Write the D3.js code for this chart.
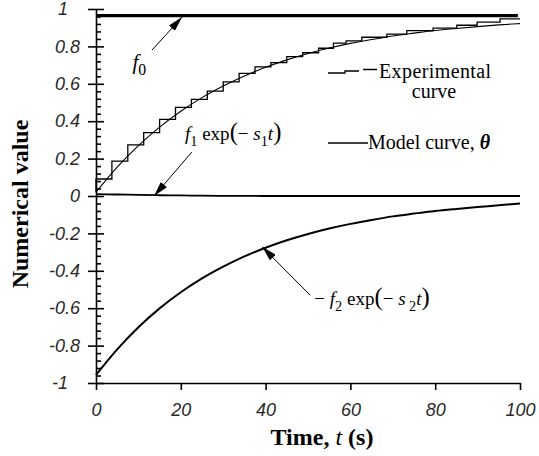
<!DOCTYPE html>
<html>
<head>
<meta charset="utf-8">
<script src="https://cdn.jsdelivr.net/npm/d3@7"></script>
<style>
body { margin: 0; background: #fff; }
svg { display: block; background: #fff; }
.tick text { font-family: "Liberation Sans", Arial, sans-serif; font-style: italic; font-size: 18px; fill: #2a2a2a; }
.serif { font-family: "Liberation Serif", "Times New Roman", serif; fill: #000; }
</style>
</head>
<body>
<script>
// time grid (s) for the smooth curves
const times = [0, 5, 10, 15, 20, 25, 30, 35, 40, 45, 50, 55, 60, 65, 70, 75, 80, 85, 90, 95, 100];
// f1 exp(-s1 t), sits just above zero
const f1Values = [0.01, 0.008, 0.006, 0.004, 0.003, 0.002, 0.001, 0.001, 0, 0, 0, 0, 0, 0, 0, 0, 0, 0, 0, 0, 0];
// -f2 exp(-s2 t)
const f2Values = [-0.957, -0.820, -0.702, -0.601, -0.515, -0.441, -0.378, -0.323, -0.277, -0.237, -0.203,
                  -0.174, -0.149, -0.128, -0.109, -0.094, -0.080, -0.069, -0.059, -0.050, -0.040];
// model curve theta
const modelValues = [0.020, 0.154, 0.269, 0.368, 0.453, 0.526, 0.588, 0.642, 0.688, 0.728, 0.762,
                     0.791, 0.816, 0.837, 0.856, 0.871, 0.885, 0.896, 0.906, 0.915, 0.922];
const f0Value = 0.965;
// experimental staircase (value held up to each time)
const expTimes = [0, 3.75, 7.5, 11.25, 15, 18.75, 22.5, 26.25, 30, 33.75, 37.5, 41.25, 45, 48.75,
                  52.5, 56, 59, 62.7, 68.6, 73.3, 79.5, 85.1, 89.9, 95.3, 100];
const expValues = [0.02, 0.091, 0.187, 0.273, 0.339, 0.41, 0.474, 0.517, 0.561, 0.61, 0.656, 0.69, 0.713, 0.745,
                   0.766, 0.79, 0.818, 0.83, 0.849, 0.866, 0.884, 0.898, 0.913, 0.93, 0.947];

const xTicks = [0, 20, 40, 60, 80, 100];
const yTicks = [-1, -0.8, -0.6, -0.4, -0.2, 0, 0.2, 0.4, 0.6, 0.8, 1];
const yTickLabels = ["-1", "-0.8", "-0.6", "-0.4", "-0.2", "0", "0.2", "0.4", "0.6", "0.8", "1"];

function ResponseChart() {
    let obj = {};
    const width = 539, height = 456;
    const plot = {left: 96, right: 520, top: 9, bottom: 383};
    let svg, x, y;

    obj.setUpChart = () => {
        obj.createSvg();
        obj.createScales();
        obj.createAxes();
        obj.createCurves();
        obj.createLabels();
    }

    obj.createSvg = () => {
        svg = d3.select("body").append("svg")
            .attr("width", width)
            .attr("height", height);

        // arrow head used by the annotations
        svg.append("defs").append("marker")
            .attr("id", "head")
            .attr("markerUnits", "userSpaceOnUse")
            .attr("markerWidth", 15).attr("markerHeight", 8)
            .attr("refX", 15).attr("refY", 4)
            .attr("orient", "auto")
            .append("path").attr("d", "M0,0 L15,4 L0,8 Z").attr("fill", "#000");
    }

    obj.createScales = () => {
        x = d3.scaleLinear().domain([0, 100]).range([plot.left, plot.right]);
        y = d3.scaleLinear().domain([-1, 1]).range([plot.bottom, plot.top]);
    }

    obj.createAxes = () => {
        svg.append("g")
            .attr("transform", "translate(0," + plot.bottom + ")")
            .call(d3.axisBottom(x).tickValues(xTicks).tickSize(7).tickSizeOuter(0)
                .tickPadding(13).tickFormat(d => d));

        const yAxis = svg.append("g")
            .attr("transform", "translate(" + plot.left + ",0)")
            .call(d3.axisLeft(y).tickValues(yTicks).tickSize(8).tickSizeOuter(0)
                .tickPadding(8).tickFormat((d, i) => yTickLabels[i]));
        // the whole numbers sit a bit further left
        yAxis.selectAll(".tick text").filter(d => Math.abs(d) === 1).attr("x", -28);

        // major ticks cross the axis, minor ticks on the inside only
        svg.append("g")
            .attr("transform", "translate(" + plot.left + ",0)")
            .call(d3.axisRight(y).tickValues(yTicks).tickSize(8).tickFormat(""))
            .call(g => g.select(".domain").remove());
        const minor = d3.range(-25, 26).map(k => k * 0.04).filter(v => Math.abs(v * 5 - Math.round(v * 5)) > 1e-6);
        svg.append("g")
            .attr("transform", "translate(" + plot.left + ",0)")
            .call(d3.axisRight(y).tickValues(minor).tickSize(5).tickFormat(""))
            .call(g => g.select(".domain").remove());

        svg.selectAll(".domain, .tick line").attr("stroke", "#000").attr("stroke-width", 1.6);
    }

    obj.createCurves = () => {
        const smooth = d3.line().x(d => x(d[0])).y(d => y(d[1])).curve(d3.curveMonotoneX);

        // f0 level
        svg.append("path")
            .datum([[0, f0Value], [99.5, f0Value]])
            .attr("d", smooth).attr("fill", "none")
            .attr("stroke", "#000").attr("stroke-width", 3.2);

        svg.append("path")
            .datum(times.map((t, i) => [t, f1Values[i]]))
            .attr("d", smooth).attr("fill", "none")
            .attr("stroke", "#000").attr("stroke-width", 1.8);

        svg.append("path")
            .datum(times.map((t, i) => [t, f2Values[i]]))
            .attr("d", smooth).attr("fill", "none")
            .attr("stroke", "#000").attr("stroke-width", 2);

        svg.append("path")
            .datum(times.map((t, i) => [t, modelValues[i]]))
            .attr("d", smooth).attr("fill", "none")
            .attr("stroke", "#000").attr("stroke-width", 1.1);

        const stairs = d3.line().x(d => x(d[0])).y(d => y(d[1])).curve(d3.curveStepBefore);
        svg.append("path")
            .datum(expTimes.map((t, i) => [t, expValues[i]]))
            .attr("d", stairs).attr("fill", "none")
            .attr("stroke", "#000").attr("stroke-width", 1.3);
    }

    // text with italic and subscript pieces
    function mathText(px, py, size, parts) {
        const txt = svg.append("text").attr("class", "serif")
            .attr("x", px).attr("y", py).attr("font-size", size);
        let shift = 0;
        parts.forEach(p => {
            const sp = txt.append("tspan").text(p.t);
            const want = p.sub ? Math.round(size * 0.3) : 0;
            if (want !== shift) { sp.attr("dy", want - shift); shift = want; }
            if (p.i) sp.attr("font-style", "italic");
            if (p.b) sp.attr("font-weight", "bold");
            if (p.sub) sp.attr("font-size", size * 0.75);
            if (p.big) sp.attr("font-size", size * 1.3);
        });
        return txt;
    }

    function arrow(from, to) {
        svg.append("line")
            .attr("x1", x(from[0])).attr("y1", y(from[1]))
            .attr("x2", x(to[0])).attr("y2", y(to[1]))
            .attr("stroke", "#000").attr("stroke-width", 1)
            .attr("marker-end", "url(#head)");
    }

    obj.createLabels = () => {
        // f0
        mathText(x(8.6), y(0.68), 21, [{t: "f", i: true}, {t: "0", sub: true}]);
        arrow([13.2, 0.78], [20.3, 0.957]);

        // f1 exp(-s1 t)
        mathText(x(21), y(0.30), 19, [{t: "f", i: true}, {t: "1", sub: true}, {t: " exp"},
            {t: "(", big: true}, {t: "\u2212 "}, {t: "s", i: true}, {t: "1", sub: true},
            {t: "t", i: true}, {t: ")", big: true}]);
        arrow([22.6, 0.235], [13.7, 0.0]);

        // -f2 exp(-s2 t)
        mathText(x(51.5), y(-0.585), 19, [{t: "\u2212 "}, {t: "f", i: true}, {t: "2", sub: true},
            {t: " exp"}, {t: "(", big: true}, {t: "\u2212 "}, {t: "s", i: true}, {t: " 2", sub: true},
            {t: "t", i: true}, {t: ")", big: true}]);
        arrow([50.5, -0.53], [39.2, -0.272]);

        // legend: experimental curve
        const lx = 328;
        svg.append("path")
            .attr("d", "M" + lx + ",73 H" + (lx + 17) + " V71 H" + (lx + 31) + " M" + (lx + 35) + ",69.5 H" + (lx + 49))
            .attr("fill", "none").attr("stroke", "#000").attr("stroke-width", 1.3);
        svg.append("text").attr("class", "serif").attr("font-size", 20)
            .attr("x", 379).attr("y", 78).attr("letter-spacing", 0.4).text("Experimental");
        svg.append("text").attr("class", "serif").attr("font-size", 20)
            .attr("x", 434).attr("y", 98).attr("text-anchor", "middle").text("curve");

        // legend: model curve
        svg.append("line").attr("x1", lx).attr("x2", lx + 40).attr("y1", 143).attr("y2", 143)
            .attr("stroke", "#000").attr("stroke-width", 1.3);
        mathText(368, 149, 20, [{t: "Model curve,  "}, {t: "\u03b8", i: true, b: true}]);

        // axis titles
        svg.append("text").attr("class", "serif")
            .attr("transform", "translate(28,204) rotate(-90)")
            .attr("text-anchor", "middle").attr("font-size", 24).attr("font-weight", "bold")
            .text("Numerical value");

        const xt = svg.append("text").attr("class", "serif")
            .attr("x", 322).attr("y", 445).attr("text-anchor", "middle")
            .attr("font-size", 24).attr("font-weight", "bold");
        xt.append("tspan").text("Time, ");
        xt.append("tspan").attr("font-style", "italic").attr("font-weight", "normal").text("t");
        xt.append("tspan").text(" (s)");
    }

    return obj;
}

var chart = ResponseChart();
chart.setUpChart();
</script>
</body>
</html>
